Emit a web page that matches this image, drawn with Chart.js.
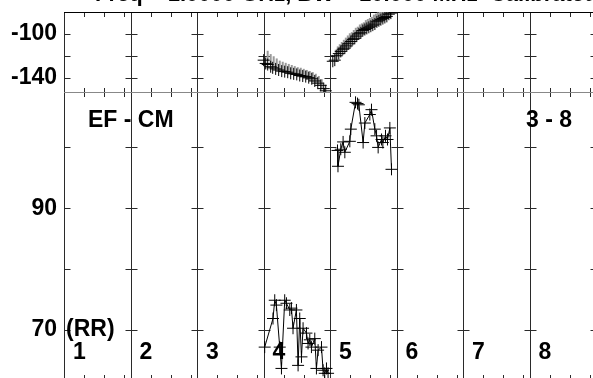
<!DOCTYPE html>
<html><head><meta charset="utf-8">
<script src="https://cdn.jsdelivr.net/npm/chart.js@4"></script>
<style>
html,body{margin:0;padding:0;background:#fff;overflow:hidden;width:593px;height:378px;position:relative}
canvas{position:absolute;left:0}
.t{position:absolute;font:bold 23px "Liberation Sans",Arial,sans-serif;line-height:22px;white-space:pre;color:#000}
</style></head><body>
<canvas id="cTop" width="600" height="93" style="top:0;width:600px;height:93px"></canvas>
<canvas id="cMain" width="600" height="288" style="top:92px;width:600px;height:288px"></canvas>
<div class="t" id="title" style="left:95px;top:-17px;font-size:22px">Freq = 1.0000 GHz, BW = 10.000 MHz  Calibrated</div>
<div class="t" style="left:88px;top:108px">EF - CM</div>
<div class="t" style="left:526px;top:108px">3 - 8</div>
<div class="t" style="left:66px;top:317px">(RR)</div>
<div id="labels"></div>
<script>
// ---- data ----
const panelLabels = ['1','2','3','4','5','6','7','8'];
const panelBounds = [0,1,2,3,4,5,6,7,8];
const minorTicks = [0.303, 0.606, 0.909];
const topTicks = [-140,-120,-100];
const topLabels = [-140,-100];
const mainTicks = [70,80,90,100];
const mainLabels = [70,90];

// top panel, black crosses (panels 4 and 5)
const topBlackX4 = [3.003,3.033,3.063,3.108,3.138,3.183,3.228,3.274,3.319,3.364,3.409,3.454,3.500,3.545,3.590,3.635,3.680,3.726,3.771,3.816,3.861,3.906,3.936];
const topBlackY4 = [-124,-127,-128,-130,-131,-132,-133,-134,-134.5,-135,-136,-136.5,-137,-138,-138.5,-139,-140,-141,-143,-145,-147,-150,-152];
const topGrayX4 = [3.063,3.108,3.153,3.199,3.244,3.289,3.334,3.380,3.425,3.470,3.515,3.560,3.605,3.651,3.696,3.741,3.786,3.831,3.876];
const topGrayY4 = [-120,-123,-125,-127,-129,-130,-131,-132,-133,-134,-135,-135.5,-136.5,-137.5,-138.5,-139.5,-141,-143,-146];
const topBlackX5 = [4.042,4.072,4.102,4.132,4.162,4.193,4.223,4.253,4.283,4.313,4.343,4.373,4.403,4.434,4.464,4.494,4.524,4.554,4.584,4.614,4.644,4.675,4.705,4.735,4.765,4.795,4.825,4.855,4.885,4.915];
const topBlackY5 = [-125,-124,-120,-118,-116,-114,-113,-111,-109,-107,-105,-104,-102,-100,-99,-97,-96,-95,-94,-93,-92,-91,-89,-88,-87,-86,-85,-84,-82,-81];
const topGrayX5 = [4.087,4.117,4.147,4.177,4.208,4.238,4.268,4.298,4.328,4.358,4.388,4.418,4.449,4.479,4.509,4.539,4.569,4.599,4.629,4.660,4.690,4.720,4.750,4.780,4.810,4.840,4.870];
const topGrayY5 = [-119,-116,-114,-112,-110,-108,-106,-104,-103,-101,-99,-98,-96,-95,-94,-92,-91,-90,-89,-87,-86,-85,-84,-83,-82,-81,-80];

// main panel (RR), black line with crosses
const mainX4 = [3.018,3.143,3.169,3.194,3.244,3.270,3.319,3.345,3.395,3.420,3.444,3.495,3.520,3.545,3.571,3.595,3.646,3.670,3.696,3.721,3.771,3.796,3.821,3.872,3.896,3.921,3.947,3.971];
const mainY4 = [67.2,71.9,74.9,74.1,67.2,63.7,74.9,74.4,73.3,73.6,70.3,73.3,64.2,71.9,65.6,70.3,69.5,67.8,68.4,67.2,68.6,63.7,66.7,67.2,63.4,62.9,63.7,62.9];
const mainX5 = [4.113,4.120,4.162,4.197,4.223,4.298,4.313,4.384,4.414,4.434,4.498,4.524,4.599,4.624,4.674,4.700,4.724,4.775,4.795,4.835,4.865,4.900,4.925];
const mainY5 = [99.5,96.9,99.7,100.9,99.2,101,103,107.4,107.2,107,100.8,104,105.4,106.2,103,101.9,100,101.3,100.8,101.9,101.3,103.2,96.4];

const pts = (xs, ys) => xs.map((x, i) => ({x, y: ys[i]}));

const framePlugin = {
  id: 'frame',
  beforeDatasetsDraw(chart, args, opts) {
    const {ctx, chartArea: a, scales: {x, y}} = chart;
    ctx.save();
    ctx.lineWidth = 1;
    ctx.strokeStyle = '#2a2a2a';
    panelBounds.forEach(b => {
      const px = Math.round(x.getPixelForValue(b)) + 0.5;
      ctx.beginPath(); ctx.moveTo(px, a.top); ctx.lineTo(px, a.bottom); ctx.stroke();
    });
    opts.yTicks.forEach(v => {
      const py = Math.round(y.getPixelForValue(v)) + 0.5;
      panelBounds.forEach(b => {
        const px = Math.round(x.getPixelForValue(b)) + 0.5;
        ctx.beginPath();
        ctx.moveTo(b === 0 ? px : px - 6, py); ctx.lineTo(px + 6, py); ctx.stroke();
      });
    });
    panelBounds.slice(0, -1).forEach(b => {
      minorTicks.forEach(t => {
        const px = Math.round(x.getPixelForValue(b + t)) + 0.5;
        ctx.beginPath(); ctx.moveTo(px, a.top); ctx.lineTo(px, a.top + 5); ctx.stroke();
        ctx.beginPath(); ctx.moveTo(px, a.bottom - 5); ctx.lineTo(px, a.bottom); ctx.stroke();
      });
    });
    ctx.strokeStyle = opts.edgeColor;
    const ey = Math.round(a.top) + 0.5;
    ctx.beginPath(); ctx.moveTo(a.left, ey); ctx.lineTo(a.right, ey); ctx.stroke();
    ctx.restore();
  }
};

function yScale(min, max, ticks, labels) {
  return {
    min, max,
    afterBuildTicks: s => { s.ticks = ticks.map(v => ({value: v})); },
    afterFit: s => { s.width = 64; s.paddingTop = 0; s.paddingBottom = 0; },
    ticks: {
      color: '#000', padding: 7,
      font: {family: '"Liberation Sans", Arial, sans-serif', size: 23, weight: 'bold'},
      callback: v => labels.includes(v) ? String(v) : ''
    },
    grid: {display: false, drawTicks: false},
    border: {display: false}
  };
}
const xScale = {type: 'linear', min: 0, max: 8, display: false};

const crossBlack = {pointStyle: 'cross', pointRadius: 6, pointBorderWidth: 1, pointBorderColor: '#000', borderColor: '#000'};
const barGray = {pointStyle: 'line', rotation: 90, pointRadius: 5, pointBorderWidth: 2, pointBorderColor: '#999', borderColor: '#999'};

const common = {
  responsive: false, animation: false, devicePixelRatio: 1,
  plugins: {legend: {display: false}, tooltip: {enabled: false}, title: {display: false}}
};

const topChart = new Chart(document.getElementById('cTop'), {
  type: 'scatter',
  data: {datasets: [
    {data: pts(topBlackX4, topBlackY4), showLine: false, ...crossBlack, order: 1},
    {data: pts(topBlackX5, topBlackY5), showLine: false, ...crossBlack, order: 1},
    {data: pts(topGrayX4, topGrayY4), showLine: false, ...barGray, order: 2},
    {data: pts(topGrayX5, topGrayY5), showLine: false, ...barGray, order: 2}
  ]},
  options: {...common,
    layout: {autoPadding: false, padding: {top: 12, right: 4, bottom: 0, left: 0}},
    scales: {x: xScale, y: yScale(-154, -80, topTicks, topLabels)},
    plugins: {...common.plugins, frame: {yTicks: topTicks, edgeColor: '#000'}}
  },
  plugins: [framePlugin]
});

const mainChart = new Chart(document.getElementById('cMain'), {
  type: 'scatter',
  data: {datasets: [
    {data: pts(mainX4, mainY4), showLine: true, borderWidth: 1, ...crossBlack},
    {data: pts(mainX5, mainY5), showLine: true, borderWidth: 1, ...crossBlack}
  ]},
  options: {...common,
    layout: {autoPadding: false, padding: {top: 0, right: 4, bottom: 0, left: 0}},
    scales: {x: xScale, y: yScale(61.8, 109.1, mainTicks, mainLabels)},
    plugins: {...common.plugins, frame: {yTicks: mainTicks, edgeColor: '#888'}}
  },
  plugins: [framePlugin]
});

const xs = mainChart.scales.x;
const holder = document.getElementById('labels');
panelLabels.forEach((lab, i) => {
  const d = document.createElement('div');
  d.className = 't';
  d.textContent = lab;
  d.style.left = (xs.getPixelForValue(i) + 9) + 'px';
  d.style.top = '340px';
  holder.appendChild(d);
});
</script>
</body></html>
